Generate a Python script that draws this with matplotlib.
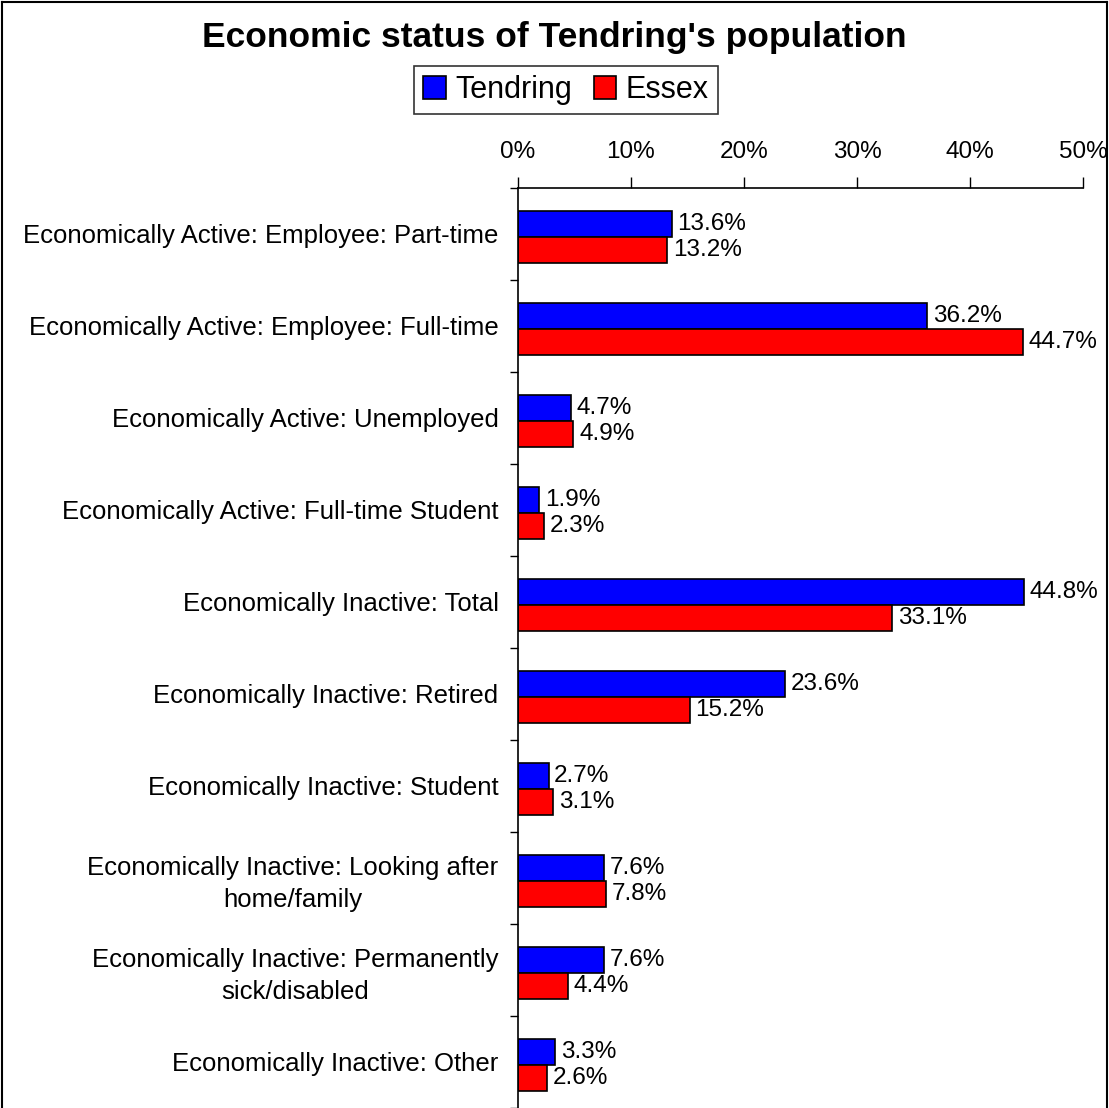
import matplotlib
matplotlib.use("Agg")
import matplotlib.pyplot as plt
import numpy as np
from matplotlib.lines import Line2D

plt.rcParams['font.family'] = ['Liberation Sans', 'DejaVu Sans']

categories = [
    "Economically Active: Employee: Part-time",
    "Economically Active: Employee: Full-time",
    "Economically Active: Unemployed",
    "Economically Active: Full-time Student",
    "Economically Inactive: Total",
    "Economically Inactive: Retired",
    "Economically Inactive: Student",
    "Economically Inactive: Looking after\nhome/family",
    "Economically Inactive: Permanently\nsick/disabled",
    "Economically Inactive: Other",
]
tendring = [13.6, 36.2, 4.7, 1.9, 44.8, 23.6, 2.7, 7.6, 7.6, 3.3]
essex = [13.2, 44.7, 4.9, 2.3, 33.1, 15.2, 3.1, 7.8, 4.4, 2.6]
xticks = [0, 10, 20, 30, 40, 50]

fig = plt.figure(figsize=(11.09, 11.08), dpi=100)
ax = fig.add_axes([518 / 1109, 0, (1083 - 518) / 1109, 1 - 188 / 1108])

y = np.arange(len(categories))
h = 0.28
b1 = ax.barh(y - h / 2 + 0.03, tendring, height=h, color='#0000FF', edgecolor='black', linewidth=1.2, label='Tendring')
b2 = ax.barh(y + h / 2 + 0.03, essex, height=h, color='#FF0000', edgecolor='black', linewidth=1.2, label='Essex')

for bars, vals in [(b1, tendring), (b2, essex)]:
    for bar, v in zip(bars, vals):
        ax.text(bar.get_width() + 0.5, bar.get_y() + bar.get_height() / 2, '{:.1f}%'.format(v),
                va='center', ha='left', fontsize=17.5)

ax.set_ylim(len(categories) - 0.5, -0.5)
ax.set_xlim(0, 50)
ax.set_yticks(y)
ax.set_yticklabels(categories, fontsize=18.5, multialignment='center', linespacing=1.4)
ax.set_yticks(np.arange(-0.5, len(categories), 1.0), minor=True)
ax.tick_params(axis='y', which='major', length=0, pad=14)
ax.tick_params(axis='y', which='minor', length=6, width=1, direction='out')

ax.set_xticks(xticks)
ax.set_xticklabels(['{}%'.format(t) for t in xticks], fontsize=17.5)
ax.xaxis.tick_top()
ax.tick_params(axis='x', length=8, width=1, direction='out', pad=10)

for s in ['right', 'bottom']:
    ax.spines[s].set_visible(False)
for s in ['left', 'top']:
    ax.spines[s].set_linewidth(1.2)

fig.text(0.5, 1 - 38 / 1108, "Economic status of Tendring's population", ha='center', va='center',
         fontsize=25.5, fontweight='bold')

leg = fig.legend(handles=[b1, b2], loc='center', bbox_to_anchor=(566 / 1109, 1 - 90 / 1108), ncol=2,
                 fontsize=22, frameon=True, fancybox=False, edgecolor='black', handlelength=0.75,
                 handleheight=0.75, handletextpad=0.3, columnspacing=0.7, borderpad=0.3)
leg.get_frame().set_linewidth(1.2)

# figure border
fig.add_artist(Line2D([0.002, 0.002], [0, 0.998], color='black', lw=1.5, transform=fig.transFigure))
fig.add_artist(Line2D([0.002, 0.998], [0.998, 0.998], color='black', lw=1.5, transform=fig.transFigure))
fig.add_artist(Line2D([0.998, 0.998], [0, 0.998], color='black', lw=1.5, transform=fig.transFigure))

fig.savefig('out.png', dpi=100)
